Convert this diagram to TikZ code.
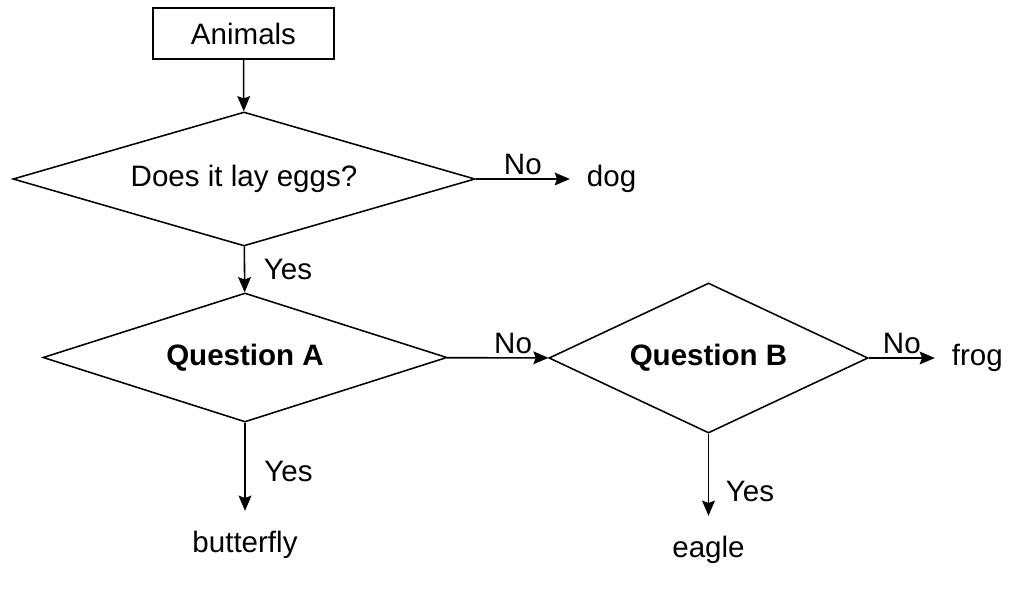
\documentclass[tikz,border=0pt]{standalone}
\usepackage{fontspec}
\setmainfont{Liberation Sans}
\usetikzlibrary{shapes.geometric,arrows.meta,positioning}

\begin{document}
\begin{tikzpicture}[x=0.025cm, y=-0.025cm, every node/.style={align=center, font=\fontsize{21}{25}\selectfont}, >={Stealth[length=3.8mm,width=3.2mm,inset=0.6mm]}]
    % styles
    \tikzstyle{startbox} = [rectangle, draw=black, line width=1.1pt, minimum width=4.525cm, minimum height=1.275cm]
    \tikzstyle{question} = [diamond, draw=black, line width=1.1pt, inner sep=0pt]
    \tikzstyle{leaf} = [inner xsep=0.42cm, inner ysep=0.5cm]
    \tikzstyle{arrow} = [line width=1.1pt,->]

    \useasboundingbox (0,0) rectangle (1016,593);

    % nodes
    \node[startbox] (animals) at (243.5,33.5) {Animals};
    \node[question, minimum width=11.55cm, minimum height=3.35cm, shape aspect=3.4] (eggs) at (244,179) {Does it lay eggs?};
    \node[question, minimum width=10.1cm, minimum height=3.225cm, shape aspect=3.1] (qa) at (245,357.5) {\bfseries Question A};
    \node[question, minimum width=7.975cm, minimum height=3.75cm, shape aspect=2.1] (qb) at (708.5,358) {\bfseries Question B};

    \node[leaf, right=2.35cm of eggs] (dog) {dog};
    \node[leaf, below=2.2cm of qa] (butterfly) {butterfly};
    \node[leaf, right=1.65cm of qb] (frog) {frog};
    \node[leaf, below=2.05cm of qb] (eagle) {eagle};

    % arrows
    \draw[arrow] (animals) -- (eggs);
    \draw[arrow] (eggs) -- node[above, yshift=-1pt] {No} (dog);
    \draw[arrow] (eggs) -- node[right=0.35cm] {Yes} (qa);
    \draw[arrow] (qa) -- node[pos=0.55, right=0.35cm] {Yes} (butterfly);
    \draw[arrow] (qa) -- node[pos=0.65, above, yshift=-1pt] {No} (qb);
    \draw[arrow] (qb) -- node[above, yshift=-1pt] {No} (frog);
    \draw[arrow] (qb) -- node[pos=0.7, right=0.3cm] {Yes} (eagle);
\end{tikzpicture}
\end{document}
